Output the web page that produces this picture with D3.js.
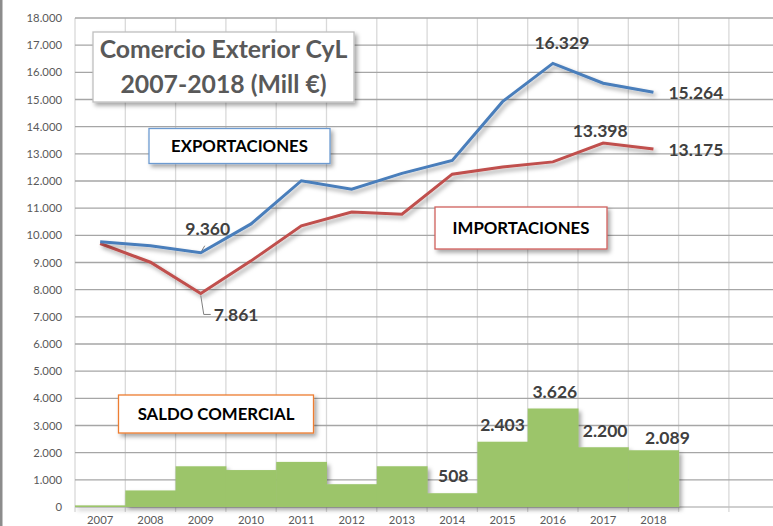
<!DOCTYPE html>
<html>
<head>
<meta charset="utf-8">
<script src="https://cdn.jsdelivr.net/npm/d3@7"></script>
<style>
  body { margin: 0; background: #fff; }
  svg { display: block; font-family: Lato, "Open Sans", sans-serif; }
</style>
</head>
<body>
<div id="viz"></div>
<script>
const width = 773;
const height = 526;
const margin = {top: 18, right: 0, bottom: 19, left: 75};

// data (Mill €)
const years = ['2007','2008','2009','2010','2011','2012','2013','2014','2015','2016','2017','2018'];
const exportaciones = [9760, 9620, 9360, 10420, 12010, 11700, 12280, 12760, 14920, 16329, 15598, 15264];
const importaciones = [9700, 9010, 7861, 9060, 10350, 10860, 10780, 12252, 12517, 12703, 13398, 13175];
const saldo = [60, 610, 1499, 1360, 1660, 840, 1500, 508, 2403, 3626, 2200, 2089];
const yTicks = d3.range(0, 18001, 1000);
// two empty slots at the right of the category axis
const slots = years.concat(['_a', '_b']);

const fmt = d => d3.format(',')(d).replace(/,/g, '.');

const svg = d3.select('#viz')
  .append('svg')
    .attr('width', width)
    .attr('height', height);

// drop shadow used by lines, bars and boxes
const defs = svg.append('defs');
const shadow = defs.append('filter').attr('id', 'shadow')
  .attr('x', '-10%').attr('y', '-10%').attr('width', '130%').attr('height', '140%');
shadow.append('feDropShadow')
  .attr('dx', 2.5).attr('dy', 3).attr('stdDeviation', 2)
  .attr('flood-color', '#000').attr('flood-opacity', 0.35);

svg.append('rect').attr('x', 0).attr('y', 0).attr('width', 2.5).attr('height', height).attr('fill', '#8c8c8c');

const x = d3.scaleBand()
  .domain(slots)
  .range([margin.left, margin.left + 50.3 * slots.length]);
const y = d3.scaleLinear()
  .domain([0, 18000])
  .range([height - margin.bottom, margin.top]);

// vertical grid
svg.append('g')
  .selectAll('line')
  .data(slots.concat(['end']))
  .join('line')
    .attr('x1', d => d === 'end' ? x.range()[1] : x(d))
    .attr('x2', d => d === 'end' ? x.range()[1] : x(d))
    .attr('y1', y(18000))
    .attr('y2', y(0) + 5)
    .attr('stroke', '#d9d9d9')
    .attr('stroke-width', 1.3);

// horizontal grid
svg.append('g')
  .selectAll('line')
  .data(yTicks)
  .join('line')
    .attr('x1', margin.left)
    .attr('x2', width)
    .attr('y1', d => y(d))
    .attr('y2', d => y(d))
    .attr('stroke', d => d === 0 ? '#bfbfbf' : '#a6a6a6')
    .attr('stroke-width', 1.3);

// y axis labels
const yAxis = d3.axisLeft(y).tickValues(yTicks).tickSize(0).tickPadding(13).tickFormat(d => d === 0 ? '0' : fmt(d));
svg.append('g')
  .attr('transform', `translate(${margin.left},0)`)
  .call(yAxis)
  .call(g => g.select('.domain').remove())
  .call(g => g.selectAll('text').attr('fill', '#595959').style('font-size', '11.3px').style('font-family', 'Lato'));

// x axis labels
const xAxis = d3.axisBottom(x).tickValues(years).tickSize(0).tickPadding(9);
svg.append('g')
  .attr('transform', `translate(0,${y(0)})`)
  .call(xAxis)
  .call(g => g.select('.domain').remove())
  .call(g => g.selectAll('text').attr('fill', '#595959').style('font-size', '11.3px').style('font-family', 'Lato'));

// saldo comercial bars
svg.append('g')
  .attr('filter', 'url(#shadow)')
  .selectAll('rect')
  .data(saldo)
  .join('rect')
    .attr('x', (d, i) => x(years[i]))
    .attr('y', d => y(d))
    .attr('width', x.bandwidth() + 0.5)
    .attr('height', d => y(0) - y(d))
    .attr('fill', '#9cc56b');

// lines
const line = d3.line()
  .x((d, i) => x(years[i]) + x.bandwidth() / 2)
  .y(d => y(d));

svg.append('path')
  .datum(importaciones)
  .attr('d', line)
  .attr('fill', 'none')
  .attr('stroke', '#c0504d')
  .attr('stroke-width', 3)
  .attr('filter', 'url(#shadow)');

svg.append('path')
  .datum(exportaciones)
  .attr('d', line)
  .attr('fill', 'none')
  .attr('stroke', '#4a7ebb')
  .attr('stroke-width', 3)
  .attr('filter', 'url(#shadow)');

// text boxes
function box(x0, y0, w, h, stroke, lines, size, color) {
  svg.append('rect')
    .attr('x', x0).attr('y', y0).attr('width', w).attr('height', h)
    .attr('fill', '#fff')
    .attr('stroke', stroke)
    .attr('stroke-width', 1.3)
    .attr('filter', 'url(#shadow)');
  const lh = h / lines.length;
  lines.forEach((t, i) => {
    svg.append('text')
      .attr('x', x0 + w / 2)
      .attr('y', y0 + lh * i + lh / 2)
      .attr('dy', '0.36em')
      .attr('text-anchor', 'middle')
      .attr('font-weight', 'bold')
      .attr('fill', color)
      .style('font-size', size + 'px')
      .text(t);
  });
}
box(93, 32, 261, 70, '#bfbfbf', ['Comercio Exterior CyL', '2007-2018 (Mill €)'], 24.8, '#595959');
box(149, 128.5, 181, 35, '#6d9bd1', ['EXPORTACIONES'], 16.8, '#000');
box(435, 207, 172, 42, '#d0605d', ['IMPORTACIONES'], 16.8, '#000');
box(118.5, 395, 195, 38, '#ed7d31', ['SALDO COMERCIAL'], 16.8, '#000');

// data labels
const cx = i => x(years[i]) + x.bandwidth() / 2;
const labels = [
  {s: exportaciones, i: 2, dx: 7, dy: -24, anchor: 'middle'},
  {s: exportaciones, i: 9, dx: 9, dy: -21, anchor: 'middle'},
  {s: exportaciones, i: 11, dx: 15, dy: 0, anchor: 'start'},
  {s: importaciones, i: 2, dx: 13, dy: 21, anchor: 'start'},
  {s: importaciones, i: 10, dx: -3, dy: -12.5, anchor: 'middle'},
  {s: importaciones, i: 11, dx: 15, dy: 1, anchor: 'start'},
  {s: saldo, i: 7, dx: 1, dy: -17, anchor: 'middle'},
  {s: saldo, i: 8, dx: 0, dy: -17, anchor: 'middle'},
  {s: saldo, i: 9, dx: 2, dy: -16.5, anchor: 'middle'},
  {s: saldo, i: 10, dx: 2, dy: -17, anchor: 'middle'},
  {s: saldo, i: 11, dx: 14, dy: -13, anchor: 'middle'}
];
svg.append('g')
  .selectAll('text')
  .data(labels)
  .join('text')
    .attr('x', d => cx(d.i) + d.dx)
    .attr('y', d => y(d.s[d.i]) + d.dy)
    .attr('dy', '0.36em')
    .attr('text-anchor', d => d.anchor)
    .attr('font-weight', 'bold')
    .attr('fill', '#404040')
    .style('font-size', '17.5px')
    .text(d => fmt(d.s[d.i]));

// leader lines for 9.360 and 7.861
svg.append('path')
  .attr('d', `M${cx(2) + 1},${y(exportaciones[2]) - 2} L${cx(2) + 4},${y(exportaciones[2]) - 7}`)
  .attr('stroke', '#808080').attr('fill', 'none');
svg.append('path')
  .attr('d', `M${cx(2)},${y(importaciones[2]) + 2} L${cx(2) + 3},${y(importaciones[2]) + 21} L${cx(2) + 10},${y(importaciones[2]) + 21}`)
  .attr('stroke', '#808080').attr('fill', 'none');
</script>
</body>
</html>
